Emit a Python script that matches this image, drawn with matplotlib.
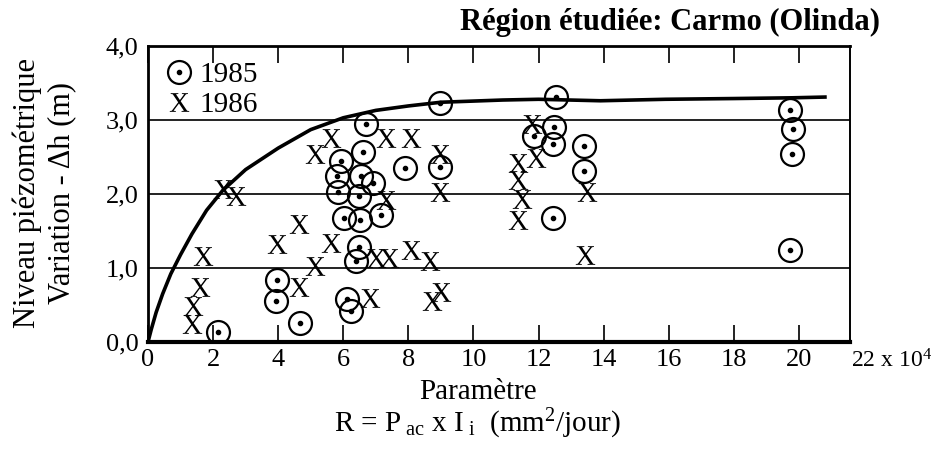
# -*- coding: utf-8 -*-

import matplotlib
matplotlib.use("Agg")
import matplotlib.pyplot as plt
from matplotlib.lines import Line2D
from matplotlib.legend_handler import HandlerTuple

plt.rcParams['font.family'] = ['Liberation Serif', 'DejaVu Serif']
plt.rcParams['mathtext.fontset'] = 'custom'
plt.rcParams['mathtext.rm'] = 'Liberation Serif'
plt.rcParams['mathtext.it'] = 'Liberation Serif:italic'

# 1985 measurements (x in 10^4 mm2/jour, y in m)
x_1985 = [2.14, 3.97, 3.94, 4.67, 6.11, 6.23, 6.38, 6.47, 6.02, 6.50, 7.15,
          5.83, 6.47, 5.80, 5.92, 6.53, 6.90, 6.60, 6.69, 7.91, 8.97, 8.97,
          12.55, 11.85, 12.49, 12.43, 13.40, 13.40, 12.43,
          19.72, 19.82, 19.78, 19.72]
y_1985 = [0.14, 0.84, 0.56, 0.26, 0.58, 0.42, 1.09, 1.29, 1.68, 1.65, 1.72,
          2.03, 1.97, 2.24, 2.44, 2.25, 2.15, 2.57, 2.94, 2.35, 3.23, 2.36,
          3.31, 2.78, 2.90, 2.68, 2.65, 2.31, 1.68,
          3.14, 2.88, 2.54, 1.25]

# 1986 measurements
x_1986 = [1.35, 1.39, 1.61, 1.70, 2.30, 2.71, 3.97, 4.64, 5.13, 4.64, 5.62,
          6.81, 5.13, 5.62, 7.30, 7.30, 7.02, 7.42, 8.09, 8.67, 8.09, 8.97,
          8.97, 11.38, 11.38, 11.48, 11.38, 11.79, 11.91, 13.49, 13.43,
          8.73, 9.00]
y_1986 = [0.25, 0.48, 0.75, 1.16, 2.07, 1.97, 1.32, 1.59, 1.03, 0.74, 1.34,
          0.59, 2.54, 2.76, 2.76, 1.92, 1.13, 1.13, 1.25, 1.10, 2.76, 2.54,
          2.03, 2.42, 2.19, 1.93, 1.65, 2.94, 2.49, 2.03, 1.18,
          0.55, 0.67]

# envelope curve
curve_x = [0, 0.1, 0.25, 0.45, 0.7, 1.0, 1.35, 1.8, 2.3, 3.0, 4.0, 5.0,
           6.0, 7.0, 8.0, 9.0, 10.9, 12.0, 13.9, 15.9, 18.0, 19.8, 20.8]
curve_y = [0, 0.17, 0.4, 0.65, 0.92, 1.18, 1.46, 1.78, 2.05, 2.33, 2.62, 2.87,
           3.03, 3.13, 3.19, 3.24, 3.27, 3.28, 3.26, 3.28, 3.29, 3.30, 3.31]

x_ticks = [0, 2, 4, 6, 8, 10, 12, 14, 16, 18, 20]
y_ticks = [0, 1, 2, 3, 4]
y_ticklabels = ['0,0', '1,0', '2,0', '3,0', '4,0']

fig = plt.figure(figsize=(9.4, 4.5), dpi=100)
ax = fig.add_axes([148 / 940, 1 - 342 / 450, 702 / 940, 296 / 450])

ax.set_xlim(0, 21.57)
ax.set_ylim(0, 4)

# grid: full lines every 4 on x, every 1 on y
ax.set_xticks(x_ticks)
ax.set_xticklabels([str(t) for t in x_ticks])
ax.set_xticks([4, 8, 12, 16, 20], minor=True)
ax.set_yticks(y_ticks)
ax.set_yticklabels(y_ticklabels)
ax.grid(which='minor', axis='x', color='#222222', lw=1.4)
ax.grid(which='major', axis='y', color='#222222', lw=1.4)
ax.tick_params(axis='x', which='major', direction='in', top=True,
               length=12, width=1.4, color='#222222', labelsize=19, pad=5)
ax.tick_params(axis='x', which='minor', length=0)
ax.tick_params(axis='y', length=0, labelsize=19, pad=7)

for s in ['left', 'top']:
    ax.spines[s].set_linewidth(2)
ax.spines['right'].set_linewidth(1.4)
ax.spines['bottom'].set_linewidth(3)

ax.plot(curve_x, curve_y, color='black', lw=2.6, zorder=3)

ax.plot(x_1985, y_1985, ls='none', marker='o', ms=16.5, mfc='none',
        mec='black', mew=1.6, zorder=4)
ax.plot(x_1985, y_1985, ls='none', marker='o', ms=3, color='black', zorder=4)
ax.plot(x_1986, y_1986, ls='none', marker='$\\mathrm{X}$', ms=14,
        color='black', mew=0, zorder=4)

h_circ = Line2D([], [], ls='none', marker='o', ms=16.5, mfc='none',
                mec='black', mew=1.6)
h_dot = Line2D([], [], ls='none', marker='o', ms=3, color='black')
h_x = Line2D([], [], ls='none', marker='$\\mathrm{X}$', ms=14, color='black',
             mew=0)
ax.legend([(h_circ, h_dot), h_x], ['1985', '1986'],
          handler_map={tuple: HandlerTuple(ndivide=1)},
          loc='upper left', frameon=False, fontsize=21,
          handlelength=1.0, handletextpad=0.2, labelspacing=0.12,
          borderaxespad=0.15)

ax.text(21.6, -0.26, '22 x 10$^4$', ha='left', va='center', fontsize=17)

fig.text(880 / 940, 1 - 22 / 450, 'Région étudiée: Carmo (Olinda)',
         ha='right', va='center', fontsize=22, fontweight='bold')

fig.text(27 / 940, 1 - 193 / 450, 'Niveau piézométrique', rotation=90,
         ha='center', va='center', fontsize=22)
fig.text(62 / 940, 1 - 193 / 450, 'Variation - Δh (m)', rotation=90,
         ha='center', va='center', fontsize=22)
fig.text(478 / 940, 1 - 392 / 450, 'Paramètre', ha='center', va='center',
         fontsize=21)
fig.text(478 / 940, 1 - 424 / 450,
         'R = P$_{\\mathrm{\\ ac}}$ x I$_{\\mathrm{\\ i}}$  (mm$^2$/jour)',
         ha='center', va='center', fontsize=21)

plt.savefig('out.png', dpi=100)
